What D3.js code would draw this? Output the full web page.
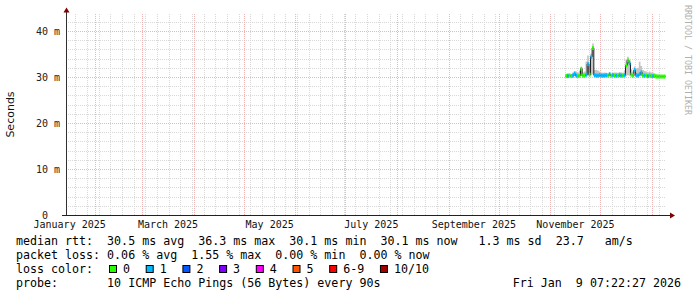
<!DOCTYPE html>
<html>
<head>
<meta charset="utf-8">
<script src="https://cdn.jsdelivr.net/npm/d3@7/dist/d3.min.js"></script>
<style>
  body { margin: 0; background: #fff; }
  text { font-family: "DejaVu Sans Mono", monospace; white-space: pre; }
</style>
</head>
<body>
<svg id="chart" width="697" height="297"></svg>
<script>
'use strict'

// one value per day, starting on firstDay
const firstDay = new Date(2025, 10, 10)
const median = [30.2, 30.2, 30.3, 30.2, 30.3, 30.7, 30.3, 30.2, 30.3, 31.8,
                30.3, 30.3, 30.5, 32.8, 30.5, 34.4, 36.3, 30.4, 30.3, 30.3,
                30.4, 30.3, 30.3, 30.3, 30.4, 30.3, 30.6, 30.3, 30.4, 30.3,
                30.3, 30.3, 30.4, 30.3, 30.3, 30.4, 32.5, 33.6, 33.0, 30.5,
                30.3, 31.5, 30.4, 30.3, 30.6, 31.0, 30.3, 30.3, 30.3, 30.2,
                30.3, 30.2, 30.2, 30.2, 30.1, 30.1, 30.1, 30.1, 30.1, 30.1]
const lossIdx = [0, 1, 0, 0, 1, 1, 1, 0, 0, 0,
                 0, 0, 1, 1, 0, 1, 0, 1, 1, 1,
                 1, 1, 1, 1, 1, 0, 1, 0, 1, 0,
                 1, 0, 1, 1, 0, 1, 0, 0, 1, 0,
                 0, 1, 1, 1, 1, 1, 0, 1, 0, 1,
                 0, 0, 1, 0, 0, 0, 0, 0, 0, 0]
const smokeLo = [30.0, 30.0, 30.1, 30.0, 30.1, 30.2, 30.1, 30.0, 30.1, 30.2,
                 30.1, 30.1, 30.2, 30.3, 30.2, 30.4, 30.6, 30.1, 30.1, 30.1,
                 30.1, 30.1, 30.1, 30.1, 30.1, 30.1, 30.2, 30.1, 30.1, 30.1,
                 30.1, 30.1, 30.1, 30.1, 30.1, 30.1, 30.3, 30.4, 30.3, 30.2,
                 30.1, 30.2, 30.1, 30.1, 30.2, 30.2, 30.1, 30.1, 30.1, 30.0,
                 30.1, 30.0, 30.0, 30.0, 29.9, 29.9, 29.9, 29.9, 29.9, 29.9]
const smokeHi = [30.7, 30.8, 30.7, 30.6, 31.0, 31.3, 31.2, 31.0, 31.4, 32.2,
                 31.0, 31.2, 33.4, 34.7, 33.0, 35.1, 37.3, 31.5, 31.6, 31.4,
                 31.2, 31.0, 30.9, 31.0, 30.9, 30.8, 31.0, 30.7, 30.9, 31.0,
                 31.0, 30.9, 31.1, 31.0, 30.9, 31.3, 33.8, 34.4, 33.8, 31.7,
                 31.2, 32.3, 31.8, 32.0, 33.3, 32.4, 31.5, 31.3, 31.2, 31.0,
                 31.2, 31.0, 30.9, 30.8, 30.6, 30.5, 30.4, 30.4, 30.4, 30.5]

const lossLabels = ['0', '1', '2', '3', '4', '5', '6-9', '10/10']
const lossColors = ['#26ff00', '#00b8ff', '#0059ff', '#7e00ff', '#ff00ff', '#ff5500', '#ff0000', '#a10000']

const yTicks = [0, 10, 20, 30, 40]
const yTickLabels = ['0', '10 m', '20 m', '30 m', '40 m']
const monthLabels = ['January 2025', 'March 2025', 'May 2025', 'July 2025', 'September 2025', 'November 2025']
const monthLabelStarts = [new Date(2025, 0, 1), new Date(2025, 2, 1), new Date(2025, 4, 1),
                          new Date(2025, 6, 1), new Date(2025, 8, 1), new Date(2025, 10, 1)]

const statLines = [
  'median rtt:  30.5 ms avg  36.3 ms max  30.1 ms min  30.1 ms now   1.3 ms sd  23.7   am/s',
  'packet loss: 0.06 % avg  1.55 % max  0.00 % min  0.00 % now'
]
const probeLine = 'probe:       10 ICMP Echo Pings (56 Bytes) every 90s'
const stampText = 'Fri Jan  9 07:22:27 2026'

const startTime = new Date(2025, 0, 14, 7, 22, 27),
      endTime = new Date(2026, 0, 9, 7, 22, 27)

const margin = {left: 66, right: 666, top: 14, bottom: 215}

const x = d3.scaleTime().domain([startTime, endTime]).range([margin.left, margin.right])
const y = d3.scaleLinear().domain([0, 43.7]).range([margin.bottom, margin.top])

const svg = d3.select('#chart')

svg.append('defs').append('clipPath').attr('id', 'plot')
  .append('rect')
  .attr('x', margin.left).attr('y', margin.top)
  .attr('width', margin.right - margin.left).attr('height', margin.bottom - margin.top)

// grid
const grid = svg.append('g').attr('shape-rendering', 'crispEdges')

const weeks = d3.timeMonday.range(startTime, endTime)
const months = d3.timeMonth.range(startTime, endTime)
const minorY = d3.range(2, 44, 2).filter(v => v % 10 !== 0)

grid.selectAll('.vminor').data(weeks).enter().append('line')
  .attr('x1', d => Math.round(x(d)) + 0.5).attr('x2', d => Math.round(x(d)) + 0.5)
  .attr('y1', margin.top).attr('y2', margin.bottom)
  .attr('stroke', '#d8d8d8').attr('stroke-dasharray', '1,1')

grid.selectAll('.hminor').data(minorY).enter().append('line')
  .attr('x1', margin.left).attr('x2', margin.right)
  .attr('y1', d => Math.round(y(d)) + 0.5).attr('y2', d => Math.round(y(d)) + 0.5)
  .attr('stroke', '#d8d8d8').attr('stroke-dasharray', '1,1')

grid.selectAll('.vmajor').data(months).enter().append('line')
  .attr('x1', d => Math.round(x(d)) + 0.5).attr('x2', d => Math.round(x(d)) + 0.5)
  .attr('y1', margin.top).attr('y2', margin.bottom)
  .attr('stroke', '#f0b4b4').attr('stroke-dasharray', '1,1')

grid.selectAll('.hmajor').data(yTicks.slice(1)).enter().append('line')
  .attr('x1', margin.left).attr('x2', margin.right)
  .attr('y1', d => Math.round(y(d)) + 0.5).attr('y2', d => Math.round(y(d)) + 0.5)
  .attr('stroke', '#f0b4b4').attr('stroke-dasharray', '1,1')

// data points with step ends
const pts = median.map((m, i) => ({
  t: d3.timeDay.offset(firstDay, i), med: m, lo: smokeLo[i], hi: smokeHi[i], loss: lossIdx[i]
}))
const stepPts = pts.concat([Object.assign({}, pts[pts.length - 1], {t: d3.timeDay.offset(firstDay, pts.length)})])

const plot = svg.append('g').attr('clip-path', 'url(#plot)')

plot.append('path')
  .datum(stepPts)
  .attr('fill', '#c4c4c4')
  .attr('d', d3.area().curve(d3.curveStepAfter)
    .x(d => x(d.t)).y0(d => y(d.lo)).y1(d => y(d.hi)))

plot.append('path')
  .datum(stepPts)
  .attr('fill', 'none')
  .attr('stroke', '#202020')
  .attr('stroke-width', 1)
  .attr('d', d3.line().curve(d3.curveStepAfter).x(d => x(d.t)).y(d => y(d.med)))

plot.selectAll('.med').data(pts).enter().append('rect')
  .attr('x', d => x(d.t))
  .attr('width', d => x(d3.timeDay.offset(d.t, 1)) - x(d.t))
  .attr('y', d => y(d.med) - 2)
  .attr('height', 4)
  .attr('fill', d => lossColors[d.loss])

// axes
const axisG = svg.append('g')
axisG.append('line')
  .attr('x1', 66.5).attr('x2', 66.5).attr('y1', 216).attr('y2', 11)
  .attr('stroke', '#303030')
axisG.append('line')
  .attr('x1', 62).attr('x2', 671).attr('y1', 215.5).attr('y2', 215.5)
  .attr('stroke', '#202020')
axisG.append('path')
  .attr('d', 'M63.5,12.5 L66.5,7.5 L69.5,12.5 Z')
  .attr('fill', '#7f0000')
axisG.append('path')
  .attr('d', 'M670,212.5 L675,215.5 L670,218.5 Z')
  .attr('fill', '#7f0000')

svg.append('g').selectAll('text').data(yTicks).enter().append('text')
  .attr('x', (d, i) => i === 0 ? 48 : 60)
  .attr('y', d => y(d) + 3.5)
  .attr('text-anchor', 'end')
  .attr('font-size', 10)
  .attr('fill', '#222')
  .text((d, i) => yTickLabels[i])

svg.append('g').selectAll('text').data(monthLabelStarts).enter().append('text')
  .attr('x', d => (x(d) + x(d3.timeMonth.offset(d, 1))) / 2)
  .attr('y', 228)
  .attr('text-anchor', 'middle')
  .attr('font-size', 10)
  .attr('fill', '#111')
  .text((d, i) => monthLabels[i])

svg.append('text')
  .attr('transform', 'translate(14,114.5) rotate(-90)')
  .attr('text-anchor', 'middle')
  .style('font-family', '"DejaVu Sans", sans-serif')
  .attr('font-size', 11)
  .attr('fill', '#111')
  .text('Seconds')

svg.append('text')
  .attr('transform', 'translate(685,5) rotate(90)')
  .attr('font-size', 8.3)
  .attr('fill', '#b0b0b0')
  .text('RRDTOOL / TOBI OETIKER')

// legend
const legend = svg.append('g').attr('font-size', 11.65).attr('fill', '#000')

legend.selectAll('.stat').data(statLines).enter().append('text')
  .attr('x', 16).attr('y', (d, i) => 245 + 14 * i)
  .text(d => d)

legend.append('text').attr('x', 16).attr('y', 273.3).text('loss color:')

let bx = 109
const boxes = lossLabels.map((l, i) => {
  const b = {x: bx, label: l, color: lossColors[i]}
  bx += 36.7 + (l.length - 1) * 7.02
  return b
})
const lg = legend.selectAll('.lc').data(boxes).enter().append('g')
lg.append('rect')
  .attr('x', d => d.x + 0.5).attr('y', 265.5)
  .attr('width', 7).attr('height', 7)
  .attr('fill', d => d.color).attr('stroke', '#000')
lg.append('text')
  .attr('x', d => d.x + 14).attr('y', 273.3)
  .text(d => d.label)

legend.append('text').attr('x', 16).attr('y', 287.3).text(probeLine)
legend.append('text').attr('x', 681).attr('y', 287.3)
  .attr('text-anchor', 'end').text(stampText)
</script>
</body>
</html>
